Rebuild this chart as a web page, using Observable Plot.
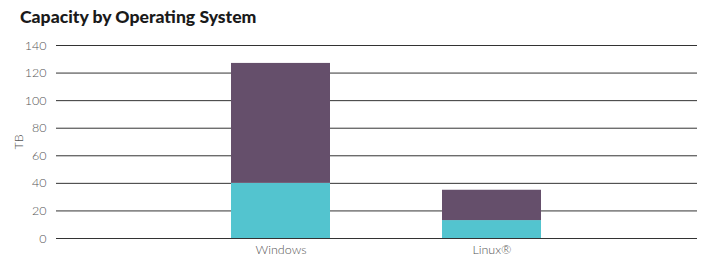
<!DOCTYPE html>
<html>
<head>
<meta charset="utf-8">
<script src="https://cdn.jsdelivr.net/npm/d3@7"></script>
<script src="https://cdn.jsdelivr.net/npm/@observablehq/plot@0.6"></script>
<style>
  html, body { margin: 0; padding: 0; background: #fff; }
  #title { font-family: Lato, "Open Sans", sans-serif; font-weight: 900; font-size: 17.6px; color: #1a1a1a; padding: 7px 0 0 20px; height: 27px; box-sizing: content-box; line-height: 20px; }
  #chart svg { display: block; }
  #chart svg text { font-weight: 300; }
</style>
</head>
<body>
<div id="title">Capacity by Operating System</div>
<div id="chart"></div>
<script>
const categories = ["Windows", "Linux®"];
const seriesNames = ["Lower", "Upper"];
const lowerValues = [40, 13];
const upperValues = [87, 22];
const yTicks = [0, 20, 40, 60, 80, 100, 120, 140];
const colors = ["#53C4CF", "#654F6B"];

const data = [];
categories.forEach((c, i) => {
  data.push({os: c, series: seriesNames[0], value: lowerValues[i]});
  data.push({os: c, series: seriesNames[1], value: upperValues[i]});
});

const chart = Plot.plot({
  width: 711,
  height: 226,
  marginLeft: 56,
  marginRight: 14,
  marginTop: 11,
  marginBottom: 22,
  style: {fontFamily: "Lato, 'Open Sans', sans-serif", fontSize: "12.5px", color: "#555"},
  x: {domain: categories, range: [175, 597], paddingInner: 0.53, paddingOuter: 0.265, label: null, tickSize: 0, tickPadding: 7},
  y: {domain: [0, 140], ticks: yTicks, label: "TB", labelAnchor: "center", labelArrow: "none", tickSize: 0, tickPadding: 10},
  color: {domain: seriesNames, range: colors},
  marks: [
    Plot.ruleY(yTicks, {stroke: "#333", strokeWidth: 1}),
    Plot.barY(data, {x: "os", y: "value", fill: "series", order: seriesNames}),
    Plot.axisY({ticks: yTicks, tickSize: 0, tickPadding: 10, label: "TB", labelAnchor: "center", labelArrow: "none", labelOffset: 42, fill: "#555"}),
    Plot.axisX({tickSize: 0, tickPadding: 7, label: null, fill: "#555"})
  ]
});
document.getElementById("chart").appendChild(chart);
</script>
</body>
</html>
